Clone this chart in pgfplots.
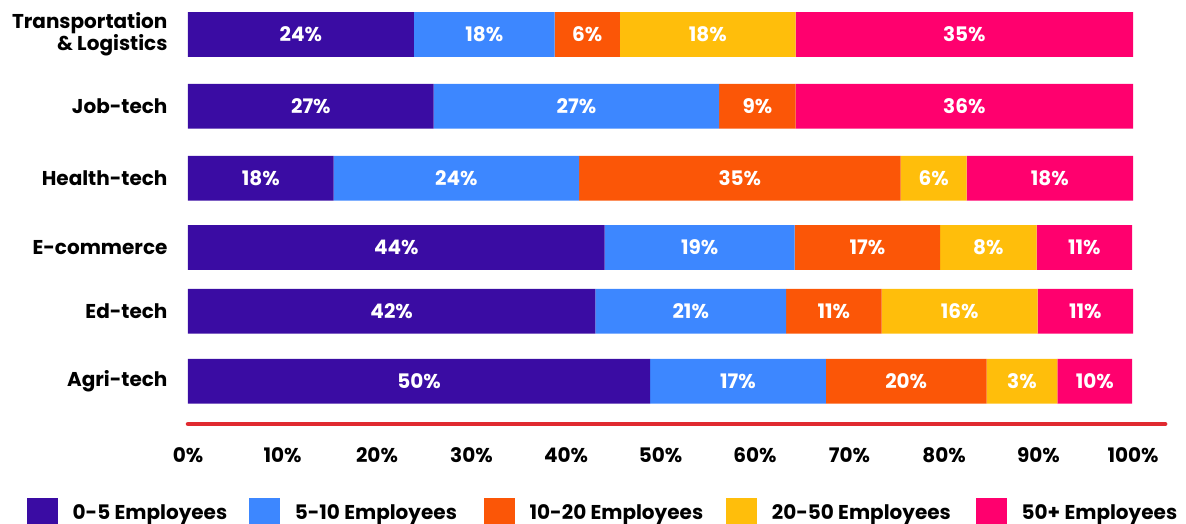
\documentclass[border=0pt]{standalone}
\usepackage{pgfplots}
\usepackage{pgfplotstable}
\pgfplotsset{compat=1.18}
\usepackage{fontspec}
\setmainfont{Poppins}

\definecolor{c1}{HTML}{3A0CA3}
\definecolor{c2}{HTML}{3D87FF}
\definecolor{c3}{HTML}{FB5607}
\definecolor{c4}{HTML}{FFBE0B}
\definecolor{c5}{HTML}{FF006E}
\definecolor{redline}{HTML}{E02A30}

% pos = bar centre (pt), a..e = segment widths, la..le = printed labels
\pgfplotstableread{
pos   a    b    c    d    e    la lb lc ld le
42.7  48.9 18.6 17.0 7.5  7.9  50 17 20 3  10
112.7 43.1 20.2 10.1 16.5 10.1 42 21 11 16 11
176.5 44.1 20.1 15.4 10.2 10.1 44 19 17 8  11
245.7 15.4 26.0 34.0 7.0  17.6 18 24 35 6  18
317.7 26.0 30.2 8.1  0    35.7 27 27 9  0  36
389.5 23.9 14.9 6.9  18.6 35.7 24 18 6  18 35
}\datatable

\newcommand{\seg}[3]{%
  \addplot[fill=#1, draw=none,
    visualization depends on={\thisrow{#2} \as \segw},
    nodes near coords={\ifdim\segw pt>0.1pt\pgfplotspointmeta\%\fi},
    nodes near coords style={anchor=center, text=white,
      font=\fontsize{20}{21}\selectfont\bfseries},
    point meta=explicit symbolic]
    table[x=#2, y=pos, meta=#3] {\datatable};
}

\begin{document}
\begin{tikzpicture}
\begin{axis}[
    at={(0,0)}, anchor=origin,
    x=9.45pt, y=1pt,
    xbar stacked,
    bar width=44.7pt,
    xmin=0, xmax=103.4,
    ymin=0, ymax=412,
    enlargelimits=false,
    clip=false,
    axis x line=bottom,
    axis y line=left,
    x axis line style={-, draw=redline, line width=4.5pt, line cap=round},
    y axis line style={draw=none},
    major tick length=0pt,
    xtick={0,10,...,100},
    xticklabel={\pgfmathprintnumber[assume math mode=true]{\tick}\%},
    xticklabel style={font=\fontsize{20}{21}\selectfont\bfseries, yshift=-20pt},
    ytick={42.7,112.7,176.5,245.7,317.7,389.5},
    yticklabels={Agri-tech,Ed-tech,E-commerce,Health-tech,Job-tech,{Transportation\\\& Logistics}},
    yticklabel style={font=\fontsize{20}{21}\selectfont\bfseries, align=right, xshift=-17pt},
    legend columns=5,
    legend style={draw=none, fill=none, inner sep=0pt,
      at={(-0.1648,-0.216)}, anchor=west,
      font=\fontsize{20}{21}\selectfont\bfseries,
      /tikz/every odd column/.append style={column sep=13pt},
      /tikz/every even column/.append style={column sep=0pt}},
    legend cell align=left,
    legend image code/.code={\fill[#1] (0pt,-15.3pt) rectangle (30.5pt,15.3pt);},
]
\seg{c1}{a}{la}
\seg{c2}{b}{lb}
\seg{c3}{c}{lc}
\seg{c4}{d}{ld}
\seg{c5}{e}{le}
\legend{\makebox[174.7pt][l]{0-5 Employees},\makebox[187.3pt][l]{5-10 Employees},
  \makebox[194.7pt][l]{10-20 Employees},\makebox[202.3pt][l]{20-50 Employees},50+ Employees}
\end{axis}
\pgfresetboundingbox
\path[use as bounding box] (-188pt,-100pt) rectangle (998pt,424pt);
\end{tikzpicture}
\end{document}
